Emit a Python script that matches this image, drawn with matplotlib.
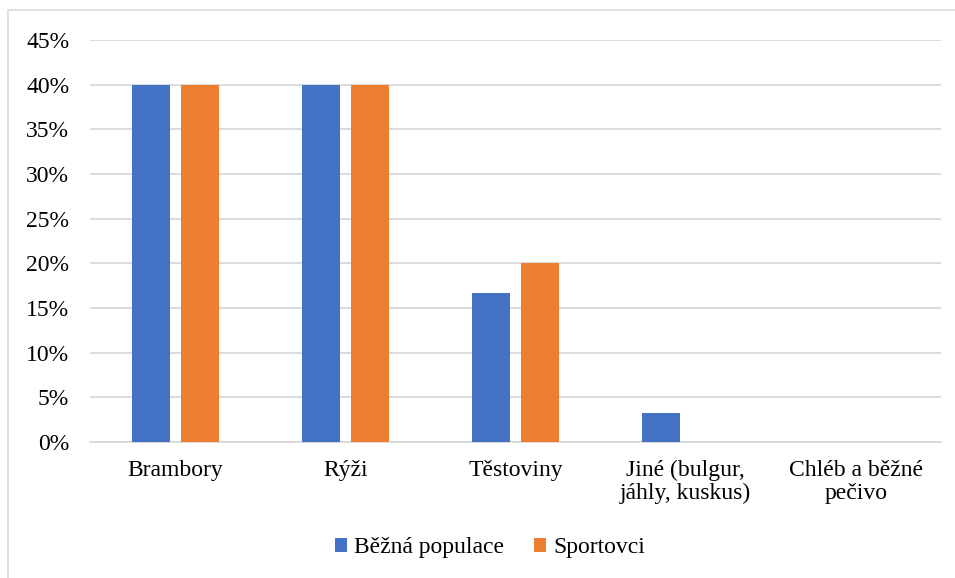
import matplotlib.pyplot as plt
from matplotlib.patches import Rectangle
from matplotlib.ticker import MultipleLocator, FuncFormatter
import numpy as np

categories = ["Brambory", "Rýži", "Těstoviny", "Jiné (bulgur,\njáhly, kuskus)", "Chléb a běžné\npečivo"]
bezna = [40, 40, 16.7, 3.3, 0]
sportovci = [40, 40, 20, 0, 0]
series_names = ["Běžná populace", "Sportovci"]

plt.rcParams["font.family"] = ["Liberation Serif", "DejaVu Serif"]

fig = plt.figure(figsize=(9.55, 5.78), dpi=100)
ax = fig.add_axes([90 / 955, 1 - 442 / 578, (941 - 90) / 955, (442 - 40) / 578])

# outer chart border
fig.patches.append(Rectangle((8 / 955, -0.01), 1.0, 1 - 10 / 578 + 0.01, transform=fig.transFigure,
                             fill=False, edgecolor="#d9d9d9", linewidth=1.2))

x = np.arange(len(categories))
w = 0.223
off = 0.144
ax.bar(x - off, bezna, w, color="#4472c4", label=series_names[0], zorder=3)
ax.bar(x + off, sportovci, w, color="#ed7d31", label=series_names[1], zorder=3)

ax.set_xlim(-0.5, len(categories) - 0.5)
ax.set_ylim(0, 45)
ax.yaxis.set_major_locator(MultipleLocator(5))
ax.yaxis.set_major_formatter(FuncFormatter(lambda v, p: f"{v:.0f}%"))
ax.grid(axis="y", color="#d9d9d9", linewidth=1.3, zorder=0)
for s in ["top", "right", "left"]:
    ax.spines[s].set_visible(False)
ax.spines["bottom"].set_color("#d9d9d9")
ax.spines["bottom"].set_linewidth(1.3)
ax.tick_params(axis="y", length=0, pad=15, labelsize=17)
ax.tick_params(axis="x", length=0, pad=13, labelsize=17)
ax.set_xticks(x)
ax.set_xticklabels(categories, linespacing=1.1)

ax.legend(loc="center", bbox_to_anchor=(490 / 955, 1 - 548 / 578), bbox_transform=fig.transFigure,
          ncol=2, frameon=False, fontsize=17, handlelength=0.5, handleheight=0.5,
          handletextpad=0.3, columnspacing=1.3)

plt.savefig("out.png", dpi=100)
